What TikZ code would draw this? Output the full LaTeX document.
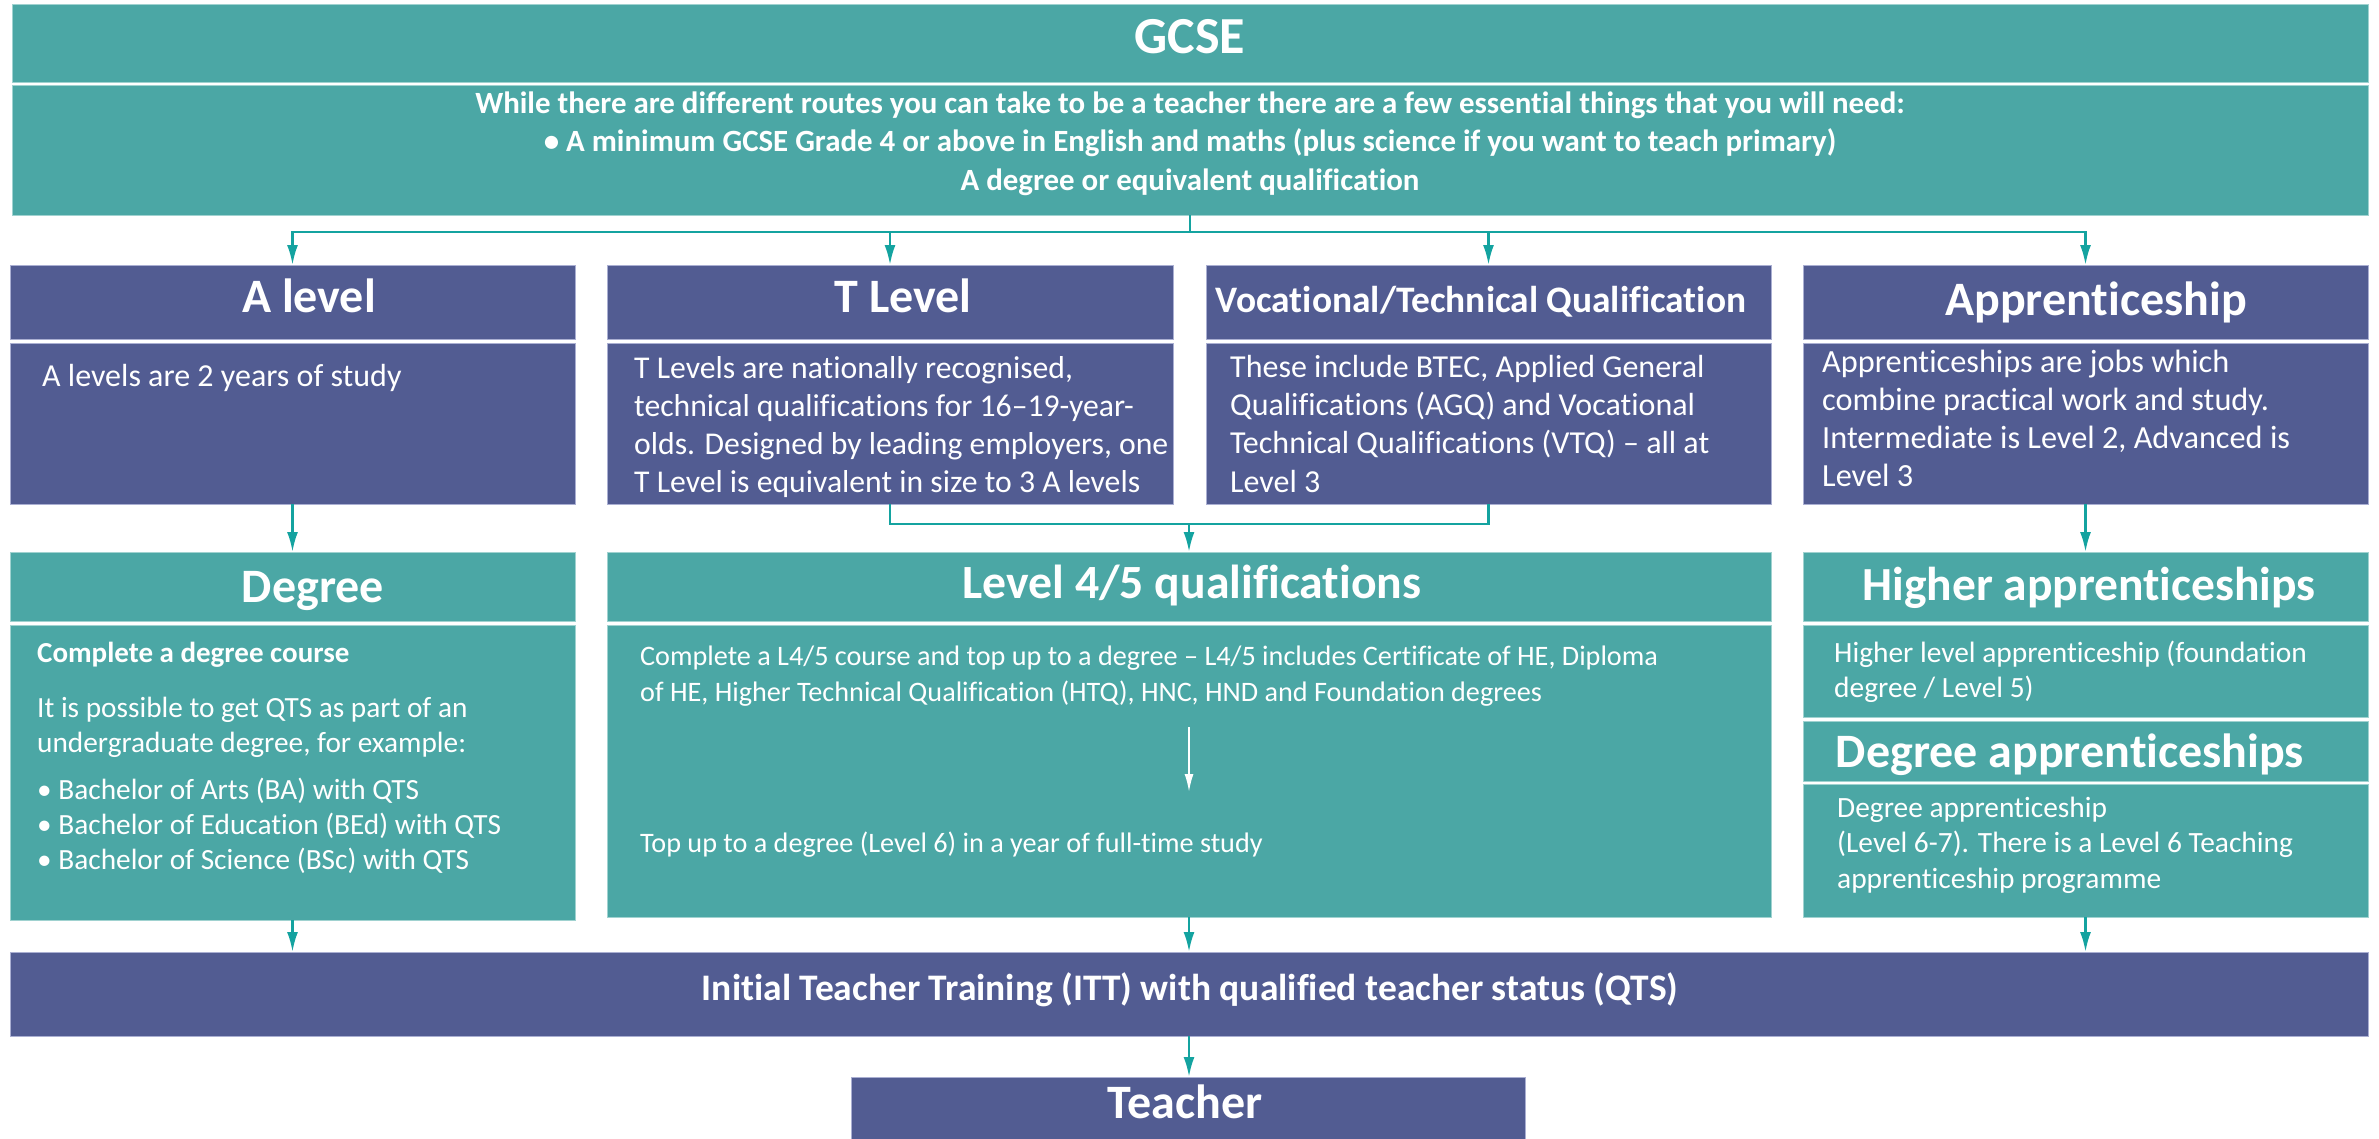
\documentclass[tikz,border=0pt]{standalone}
\usepackage{fontspec}
\setmainfont{Carlito}[Ligatures=NoCommon]
\usetikzlibrary{arrows.meta}
\definecolor{tealc}{RGB}{75,167,165}
\definecolor{purc}{RGB}{82,92,146}
\definecolor{arrc}{RGB}{20,163,160}
\definecolor{tealedge}{RGB}{160,210,208}
\definecolor{puredge}{RGB}{170,175,210}
\newcommand\fs[2]{\fontsize{#1pt}{#2pt}\selectfont}
\newcommand\mkbox[6]{\node[#2, minimum width={#5-#3}, minimum height={#6-#4}] (#1) at (#3,#4) {};}
\tikzset{
  boxbase/.style={rectangle, inner sep=0pt, outer sep=0pt, anchor=north west, line width=1pt},
  tealbox/.style={boxbase, fill=tealc, draw=tealedge},
  purbox/.style={boxbase, fill=purc, draw=puredge},
  ttl/.style={text=white, anchor=base, inner sep=0pt, font=\bfseries},
  body/.style={text=white, anchor=base west, inner sep=0pt, align=left},
  conn/.style={draw=arrc, line width=2.5pt},
  arr/.style={conn, -{Latex[length=20pt,width=11pt]}},
}
\begin{document}
\begin{tikzpicture}[x=1pt,y=-1pt]
\useasboundingbox (0,0) rectangle (2379,1138);
% boxes
\mkbox{gcseT}{tealbox}{12}{4}{2368}{82}
\mkbox{gcseB}{tealbox}{12}{85}{2368}{215}
\mkbox{alT}{purbox}{10}{265}{575}{339}
\mkbox{alB}{purbox}{10}{343}{575}{504}
\mkbox{tlT}{purbox}{607}{265}{1173}{339}
\mkbox{tlB}{purbox}{607}{343}{1173}{504}
\mkbox{vocT}{purbox}{1206}{265}{1771}{339}
\mkbox{vocB}{purbox}{1206}{343}{1771}{504}
\mkbox{apT}{purbox}{1803}{265}{2368}{339}
\mkbox{apB}{purbox}{1803}{343}{2368}{504}
\mkbox{degT}{tealbox}{10}{552}{575}{621}
\mkbox{degB}{tealbox}{10}{625}{575}{920}
\mkbox{lT}{tealbox}{607}{552}{1771}{621}
\mkbox{lB}{tealbox}{607}{625}{1771}{917}
\mkbox{haT}{tealbox}{1803}{552}{2368}{621}
\mkbox{haB}{tealbox}{1803}{625}{2368}{717}
\mkbox{daT}{tealbox}{1803}{721}{2368}{781}
\mkbox{daB}{tealbox}{1803}{784}{2368}{917}
\mkbox{itt}{purbox}{10}{952}{2368}{1036}
\mkbox{teach}{purbox}{851}{1077}{1525}{1140}
% titles
\node[ttl, font=\bfseries\fs{52}{60}] (gcseTx) at (1190,53) {GCSE};
\node[ttl, font=\bfseries\fs{30.9}{38.5}, align=center] (gcseBx) at (1190,190) {While there are different routes you can take to be a teacher there are a few essential things that you will need:\\
• A minimum GCSE Grade 4 or above in English and maths (plus science if you want to teach primary)\\
A degree or equivalent qualification};
\node[ttl, font=\bfseries\fs{48}{50}] (alTx) at (309,312) {A level};
\node[ttl, font=\bfseries\fs{48}{50}] (tlTx) at (903,312) {T Level};
\node[ttl, font=\bfseries\fs{37.4}{40}] (vocTx) at (1481,312) {Vocational/Technical Qualification};
\node[ttl, font=\bfseries\fs{48}{50}] (apTx) at (2096,315) {Apprenticeship};
\node[ttl, font=\bfseries\fs{48}{50}] (degTx) at (313,602) {Degree};
\node[ttl, font=\bfseries\fs{47.7}{50}] (lTx) at (1192,598) {Level 4/5 qualifications};
\node[ttl, font=\bfseries\fs{47.5}{50}] (haTx) at (2089,600) {Higher apprenticeships};
\node[ttl, font=\bfseries\fs{48}{50}] (daTx) at (2070,767) {Degree apprenticeships};
\node[ttl, font=\bfseries\fs{37.5}{40}] (ittTx) at (1190,1000) {Initial Teacher Training (ITT) with qualified teacher status (QTS)};
\node[ttl, font=\bfseries\fs{48}{50}] (teachTx) at (1185,1118) {Teacher};
% bodies (anchor = baseline of last line)
\node[body, font=\fs{32}{38}] (alBx) at (42,386) {A levels are 2 years of study};
\node[body, font=\fs{31.7}{38}] (tlBx) at (634,492) {T Levels are nationally recognised,\\technical qualifications for 16–19-year-\\olds. Designed by leading employers, one\\T Level is equivalent in size to 3 A levels};
\node[body, font=\fs{32}{38.3}] (vocBx) at (1230,492) {These include BTEC, Applied General\\Qualifications (AGQ) and Vocational\\Technical Qualifications (VTQ) – all at\\Level 3};
\node[body, font=\fs{32.3}{38}] (apBx) at (1822,486) {Apprenticeships are jobs which\\combine practical work and study.\\Intermediate is Level 2, Advanced is\\Level 3};
\node[body, font=\bfseries\fs{29}{35}] (degBa) at (37,662) {Complete a degree course};
\node[body, font=\fs{29.3}{35}] (degBb) at (37,752) {It is possible to get QTS as part of an\\undergraduate degree, for example:};
\node[body, font=\fs{29.3}{35}] (degBc) at (37,869) {• Bachelor of Arts (BA) with QTS\\• Bachelor of Education (BEd) with QTS\\• Bachelor of Science (BSc) with QTS};
\node[body, font=\fs{28.2}{36}] (lBa) at (640,701) {Complete a L4/5 course and top up to a degree – L4/5 includes Certificate of HE, Diploma\\of HE, Higher Technical Qualification (HTQ), HNC, HND and Foundation degrees};
\node[body, font=\fs{28.2}{36}] (lBb) at (640,852) {Top up to a degree (Level 6) in a year of full-time study};
\node[body, font=\fs{29.4}{35}] (haBx) at (1834,697) {Higher level apprenticeship (foundation\\degree / Level 5)};
\node[body, font=\fs{29.4}{35.5}] (daBx) at (1837,888) {Degree apprenticeship\\(Level 6-7). There is a Level 6 Teaching\\apprenticeship programme};
% connectors
\coordinate (split) at (1190,232);
\coordinate (join) at (1189,524);
\draw[conn] (gcseB.south) -- (split);
\draw[arr] (split) -| (alT.north);
\draw[arr] (split) -| (tlT.north);
\draw[arr] (split) -| (vocT.north);
\draw[arr] (split) -| (apT.north);
\draw[arr] (alB.south) -- (degT.north);
\draw[conn] (tlB.south) |- (join);
\draw[conn] (vocB.south) |- (join);
\draw[arr] (join) -- (lT.north);
\draw[arr] (apB.south) -- (haT.north);
\coordinate (inA) at (1189,727);
\coordinate (inB) at (1189,792);
\draw[draw=white, line width=2pt, -{Latex[length=18pt,width=9pt]}] (inA) -- (inB);
\draw[arr] (degB.south) -- (degB.south |- itt.north);
\draw[arr] (lB.south) -- (lB.south |- itt.north);
\draw[arr] (daB.south) -- (daB.south |- itt.north);
\draw[arr] (itt.south) -- (itt.south |- teach.north);
\end{tikzpicture}
\end{document}
